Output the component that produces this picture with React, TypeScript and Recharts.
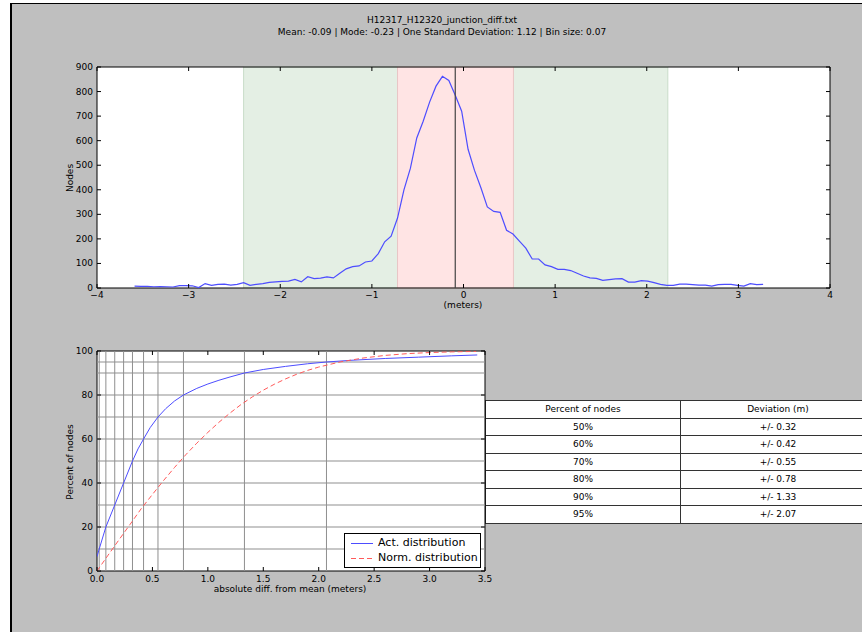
import { LineChart, Line, XAxis, YAxis, CartesianGrid, ReferenceArea, ReferenceLine } from "recharts";

const FONT = "'DejaVu Sans', sans-serif";

// histogram of differences, bin size 0.07
const HIST_X = [
  -3.59, -3.52, -3.45, -3.38, -3.31, -3.24, -3.17, -3.1, -3.03, -2.96,
  -2.89, -2.82, -2.75, -2.68, -2.61, -2.54, -2.47, -2.4, -2.33, -2.26,
  -2.19, -2.12, -2.05, -1.98, -1.91, -1.84, -1.77, -1.7, -1.63, -1.56,
  -1.49, -1.42, -1.35, -1.28, -1.21, -1.14, -1.07, -1.0, -0.93, -0.86,
  -0.79, -0.72, -0.65, -0.58, -0.51, -0.44, -0.37, -0.3, -0.23, -0.16,
  -0.09, -0.02, 0.05, 0.12, 0.19, 0.26, 0.33, 0.4, 0.47, 0.54,
  0.61, 0.68, 0.75, 0.82, 0.89, 0.96, 1.03, 1.1, 1.17, 1.24,
  1.31, 1.38, 1.45, 1.52, 1.59, 1.66, 1.73, 1.8, 1.87, 1.94,
  2.01, 2.08, 2.15, 2.22, 2.29, 2.36, 2.43, 2.5, 2.57, 2.64,
  2.71, 2.78, 2.85, 2.92, 2.99, 3.06, 3.13, 3.2, 3.27,
];
const HIST_NODES = [
  8, 7, 7, 5, 6, 5, 4, 10, 10, 9,
  2, 18, 11, 15, 16, 12, 15, 22, 11, 15,
  18, 23, 25, 27, 28, 35, 25, 46, 38, 40,
  45, 41, 60, 78, 87, 90, 106, 110, 140, 188,
  211, 285, 400, 487, 611, 679, 757, 822, 862, 845,
  785, 720, 565, 479, 408, 330, 312, 308, 235, 220,
  191, 162, 118, 118, 94, 87, 76, 76, 71, 60,
  49, 41, 39, 31, 34, 37, 38, 24, 24, 30,
  28, 22, 15, 11, 11, 16, 16, 14, 12, 12,
  8, 14, 15, 15, 11, 8, 18, 14, 15,
];
const TOP_X_TICKS = [-4, -3, -2, -1, 0, 1, 2, 3, 4];
const TOP_Y_TICKS = [0, 100, 200, 300, 400, 500, 600, 700, 800, 900];
const MEAN = -0.09;
const RED_SPAN = [-0.72, 0.545];
const GREEN_SPAN = [-2.4, 2.23];

// cumulative distributions
const ACT_X = [0, 0.02, 0.05, 0.08, 0.12, 0.16, 0.2, 0.24, 0.28, 0.32, 0.37, 0.42, 0.48, 0.55, 0.62, 0.7, 0.78, 0.9, 1.0, 1.1, 1.2, 1.33, 1.5, 1.7, 1.9, 2.07, 2.3, 2.6, 2.9, 3.2, 3.43];
const ACT_PCT = [6.5, 10, 15, 20, 25, 30, 35, 40, 45, 50, 55.5, 60, 65.2, 70, 73.8, 77.3, 80, 83, 85, 86.7, 88.2, 90, 91.6, 93, 94.2, 95, 95.8, 96.6, 97.2, 97.8, 98.2];
const NORM_X = [0, 0.1, 0.2, 0.3, 0.4, 0.5, 0.6, 0.7, 0.8, 0.9, 1.0, 1.1, 1.2, 1.3, 1.4, 1.5, 1.6, 1.7, 1.8, 1.9, 2.0, 2.2, 2.4, 2.6, 2.8, 3.0, 3.2, 3.42];
const NORM_PCT = [0, 7.2, 14.3, 21.3, 28.4, 34.8, 41.1, 47.1, 52.8, 58.1, 63, 67.6, 71.8, 75.7, 79.1, 82.2, 84.9, 87.3, 89.4, 91.2, 92.7, 95.1, 96.8, 98, 98.8, 99.3, 99.6, 99.8];
const BOT_X_TICKS = [0, 0.5, 1, 1.5, 2, 2.5, 3, 3.5];
const BOT_Y_TICKS = [0, 20, 40, 60, 80, 100];
const V_GRID = [0.02, 0.08, 0.16, 0.24, 0.32, 0.42, 0.55, 0.78, 1.33, 2.07];
const H_GRID = [10, 20, 30, 40, 50, 60, 70, 80, 90, 95];

const PCT_ROWS = ["50%", "60%", "70%", "80%", "90%", "95%"];
const DEV_ROWS = ["+/- 0.32", "+/- 0.42", "+/- 0.55", "+/- 0.78", "+/- 1.33", "+/- 2.07"];

const minus = (v: number) => String(v).replace("-", "\u2212");

function xTick(top: number, bottom: number, dy: number, fmt: (v: number) => string) {
  return (props: any) => {
    const { x, payload } = props;
    return (
      <g>
        <line x1={x} x2={x} y1={bottom} y2={bottom - 4} stroke="#000" />
        <line x1={x} x2={x} y1={top} y2={top + 4} stroke="#000" />
        <text x={x} y={bottom + dy} textAnchor="middle" fontSize={9} fontFamily={FONT} fill="#000">
          {fmt(payload.value)}
        </text>
      </g>
    );
  };
}

function yTick(left: number, right: number) {
  return (props: any) => {
    const { y, payload } = props;
    return (
      <g>
        <line x1={left} x2={left + 4} y1={y} y2={y} stroke="#000" />
        <line x1={right} x2={right - 4} y1={y} y2={y} stroke="#000" />
        <text x={left - 4} y={y + 3} textAnchor="end" fontSize={9} fontFamily={FONT} fill="#000">
          {payload.value}
        </text>
      </g>
    );
  };
}

const abs = (x: number, y: number, extra: any = {}): any => ({ position: "absolute", left: x, top: y, ...extra });

export default function App() {
  const hist = HIST_X.map((x, i) => ({ x, nodes: HIST_NODES[i] }));
  const act = ACT_X.map((x, i) => ({ x, pct: ACT_PCT[i] }));
  const norm = NORM_X.map((x, i) => ({ x, pct: NORM_PCT[i] }));

  const label = { fontSize: 9, fontFamily: FONT, color: "#000", whiteSpace: "nowrap" as const };
  const cell = { border: "1px solid #333", textAlign: "center" as const, padding: 0, height: 16.5 };

  return (
    <div style={{ position: "fixed", left: 0, top: 0, width: 862, height: 632, overflow: "hidden", background: "#fff", fontFamily: FONT }}>
      <div style={abs(10, 3, { width: 900, height: 700, background: "#bfbfbf", borderLeft: "2px solid #000", borderTop: "1px solid #000" })} />

      <div style={abs(142, 14, { ...label, width: 600, textAlign: "center", lineHeight: "12px" })}>
        H12317_H12320_junction_diff.txt
        <br />
        Mean: -0.09 | Mode: -0.23 | One Standard Deviation: 1.12 | Bin size: 0.07
      </div>

      <div style={abs(0, 0)}>
        <LineChart width={862} height={320} data={hist} margin={{ top: 67, right: 32, bottom: 2, left: 57 }}>
          <CartesianGrid fill="#fff" horizontal={false} vertical={false} />
          <ReferenceArea x1={GREEN_SPAN[0]} x2={GREEN_SPAN[1]} fill="#e4efe4" fillOpacity={1} stroke="#c9dcc9" />
          <ReferenceArea x1={RED_SPAN[0]} x2={RED_SPAN[1]} fill="#ffe4e4" fillOpacity={1} stroke="#e8c6c6" />
          <XAxis type="number" dataKey="x" domain={[-4, 4]} ticks={TOP_X_TICKS} axisLine={false} tickLine={false} height={30} tick={xTick(67, 288, 10, minus)} interval={0} />
          <YAxis type="number" domain={[0, 900]} ticks={TOP_Y_TICKS} axisLine={false} tickLine={false} width={40} tick={yTick(97, 830)} interval={0} />
          <Line dataKey="nodes" stroke="#4d4dff" strokeWidth={1.2} dot={false} isAnimationActive={false} />
          <ReferenceLine x={MEAN} stroke="#444" strokeWidth={1.2} />
          <ReferenceArea x1={-4} x2={4} y1={0} y2={900} fill="none" stroke="#000" strokeWidth={1} />
        </LineChart>
      </div>
      <div style={abs(70, 178, { ...label, transform: "translate(-50%, -50%) rotate(-90deg)" })}>Nodes</div>
      <div style={abs(463, 305, { ...label, transform: "translate(-50%, -50%)" })}>(meters)</div>

      <div style={abs(485, 400)}>
        <table style={{ borderCollapse: "collapse", tableLayout: "fixed", width: 388, background: "#fff", fontSize: 9, fontFamily: FONT }}>
          <tbody>
            <tr>
              <td style={{ ...cell, width: 194 }}>Percent of nodes</td>
              <td style={{ ...cell, width: 194 }}>Deviation (m)</td>
            </tr>
            {PCT_ROWS.map((p, i) => (
              <tr key={p}>
                <td style={cell}>{p}</td>
                <td style={cell}>{DEV_ROWS[i]}</td>
              </tr>
            ))}
          </tbody>
        </table>
      </div>

      <div style={abs(0, 320)}>
        <LineChart width={862} height={312} margin={{ top: 31, right: 377, bottom: 31, left: 57 }}>
          <CartesianGrid fill="#fff" horizontal={false} vertical={false} />
          {V_GRID.map((v) => (
            <ReferenceLine key={"v" + v} x={v} stroke="#8f8f8f" />
          ))}
          {H_GRID.map((v) => (
            <ReferenceLine key={"h" + v} y={v} stroke="#8f8f8f" />
          ))}
          <XAxis type="number" dataKey="x" domain={[0, 3.5]} ticks={BOT_X_TICKS} axisLine={false} tickLine={false} height={30} tick={xTick(31, 251, 11, (v) => v.toFixed(1))} interval={0} allowDataOverflow />
          <YAxis type="number" domain={[0, 100]} ticks={BOT_Y_TICKS} axisLine={false} tickLine={false} width={40} tick={yTick(97, 485)} interval={0} allowDataOverflow />
          <Line data={act} dataKey="pct" stroke="#4d4dff" strokeWidth={1} dot={false} isAnimationActive={false} />
          <Line data={norm} dataKey="pct" stroke="#ff5a5a" strokeWidth={1} strokeDasharray="5 3" dot={false} isAnimationActive={false} />
          <ReferenceArea x1={0} x2={3.5} y1={0} y2={100} fill="none" stroke="#000" strokeWidth={1} />
        </LineChart>
      </div>
      <div style={abs(70, 462, { ...label, transform: "translate(-50%, -50%) rotate(-90deg)" })}>Percent of nodes</div>
      <div style={abs(290, 589, { ...label, transform: "translate(-50%, -50%)" })}>absolute diff. from mean (meters)</div>

      <div style={abs(344, 533, { width: 135, height: 33, background: "#fff", border: "1px solid #000", fontSize: 11, fontFamily: FONT })}>
        <svg width={30} height={33} style={{ position: "absolute", left: 0, top: 0 }}>
          <line x1={6} x2={28} y1={9.5} y2={9.5} stroke="#4d4dff" />
          <line x1={6} x2={28} y1={24.5} y2={24.5} stroke="#ff5a5a" strokeDasharray="5 3" />
        </svg>
        <div style={abs(33, 2, { whiteSpace: "nowrap" })}>Act. distribution</div>
        <div style={abs(33, 17, { whiteSpace: "nowrap" })}>Norm. distribution</div>
      </div>
    </div>
  );
}
